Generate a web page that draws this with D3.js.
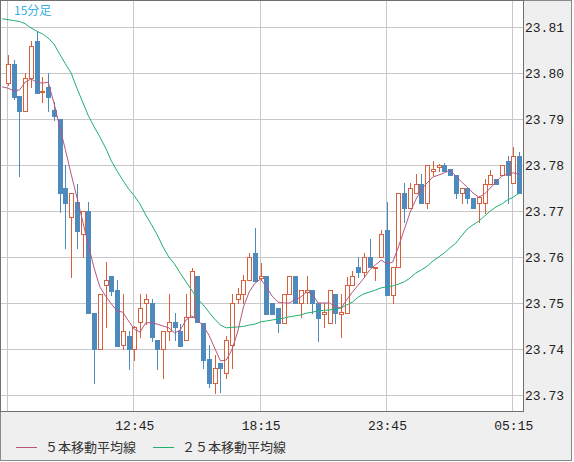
<!DOCTYPE html>
<html>
<head>
<meta charset="utf-8">
<script src="https://cdn.jsdelivr.net/npm/d3@7"></script>
<style>
body { margin: 0; background: #ffffff; }
svg { display: block; }
</style>
</head>
<body>
<div id="chart_div"></div>
<script>
var chart_width = 574;
var chart_height = 462;
var plot_right = 523;
var plot_bottom = 411;

var up_colour = "#d8603c";
var down_colour = "#4d8bbf";
var ma5_colour = "#b5577f";
var ma25_colour = "#1fb070";

// 15 minute bars, 07:15 .. 05:30
var candle_open = [
    23.7978, 23.8020, 23.7950, 23.7917, 23.7989, 23.8070, 23.7958, 23.7970, 23.7920, 23.7900,
    23.7750, 23.7687, 23.7720, 23.7650, 23.7700, 23.7478, 23.7400, 23.7539, 23.7559, 23.7528,
    23.7409, 23.7428, 23.7400, 23.7459, 23.7500, 23.7500, 23.7420, 23.7400, 23.7439, 23.7459,
    23.7439, 23.7420, 23.7470, 23.7559, 23.7457, 23.7378, 23.7326, 23.7370, 23.7348, 23.7409,
    23.7509, 23.7520, 23.7550, 23.7609, 23.7554, 23.7559, 23.7500, 23.7489, 23.7457, 23.7520,
    23.7559, 23.7500, 23.7524, 23.7528, 23.7500, 23.7476, 23.7457, 23.7520, 23.7476, 23.7478,
    23.7539, 23.7578, 23.7567, 23.7600, 23.7576, 23.7600, 23.7659, 23.7517, 23.7578, 23.7739,
    23.7707, 23.7739, 23.7759, 23.7717, 23.7787, 23.7796, 23.7800, 23.7791, 23.7778, 23.7739,
    23.7750, 23.7728, 23.7717, 23.7717, 23.7759, 23.7770, 23.7778, 23.7809, 23.7761, 23.7820
];
var candle_high = [
    23.8039, 23.8028, 23.7950, 23.8000, 23.8070, 23.8089, 23.7991, 23.8000, 23.7937, 23.7900,
    23.7800, 23.7739, 23.7759, 23.7700, 23.7720, 23.7478, 23.7520, 23.7589, 23.7559, 23.7550,
    23.7520, 23.7439, 23.7450, 23.7520, 23.7520, 23.7509, 23.7420, 23.7439, 23.7520, 23.7478,
    23.7454, 23.7520, 23.7576, 23.7559, 23.7457, 23.7409, 23.7387, 23.7370, 23.7428, 23.7520,
    23.7533, 23.7561, 23.7609, 23.7663, 23.7587, 23.7559, 23.7500, 23.7489, 23.7520, 23.7559,
    23.7559, 23.7528, 23.7559, 23.7528, 23.7500, 23.7500, 23.7528, 23.7520, 23.7520, 23.7557,
    23.7570, 23.7600, 23.7609, 23.7639, 23.7578, 23.7659, 23.7720, 23.7578, 23.7739, 23.7761,
    23.7761, 23.7780, 23.7780, 23.7800, 23.7809, 23.7802, 23.7804, 23.7791, 23.7778, 23.7750,
    23.7750, 23.7728, 23.7733, 23.7770, 23.7789, 23.7770, 23.7800, 23.7820, 23.7839, 23.7828
];
var candle_low = [
    23.7974, 23.7943, 23.7776, 23.7917, 23.7970, 23.7957, 23.7937, 23.7917, 23.7898, 23.7698,
    23.7620, 23.7557, 23.7620, 23.7600, 23.7478, 23.7326, 23.7400, 23.7448, 23.7517, 23.7407,
    23.7400, 23.7357, 23.7376, 23.7426, 23.7454, 23.7417, 23.7357, 23.7337, 23.7420, 23.7420,
    23.7407, 23.7420, 23.7470, 23.7459, 23.7359, 23.7317, 23.7304, 23.7307, 23.7337, 23.7359,
    23.7500, 23.7500, 23.7550, 23.7548, 23.7550, 23.7476, 23.7476, 23.7437, 23.7457, 23.7520,
    23.7500, 23.7470, 23.7500, 23.7478, 23.7417, 23.7448, 23.7457, 23.7457, 23.7426, 23.7478,
    23.7539, 23.7557, 23.7557, 23.7578, 23.7550, 23.7600, 23.7517, 23.7500, 23.7578, 23.7676,
    23.7707, 23.7739, 23.7717, 23.7707, 23.7778, 23.7787, 23.7787, 23.7778, 23.7728, 23.7717,
    23.7717, 23.7707, 23.7676, 23.7696, 23.7759, 23.7759, 23.7778, 23.7717, 23.7761, 23.7739
];
var candle_close = [
    23.8020, 23.7948, 23.7917, 23.7989, 23.8059, 23.7957, 23.7960, 23.7948, 23.7907, 23.7739,
    23.7717, 23.7739, 23.7657, 23.7700, 23.7478, 23.7400, 23.7520, 23.7550, 23.7526, 23.7407,
    23.7439, 23.7400, 23.7448, 23.7489, 23.7509, 23.7426, 23.7400, 23.7439, 23.7459, 23.7448,
    23.7407, 23.7470, 23.7570, 23.7459, 23.7376, 23.7326, 23.7359, 23.7359, 23.7420, 23.7500,
    23.7520, 23.7550, 23.7600, 23.7548, 23.7559, 23.7476, 23.7476, 23.7457, 23.7520, 23.7559,
    23.7500, 23.7528, 23.7528, 23.7500, 23.7467, 23.7480, 23.7528, 23.7478, 23.7480, 23.7539,
    23.7559, 23.7567, 23.7600, 23.7578, 23.7578, 23.7650, 23.7517, 23.7578, 23.7739, 23.7707,
    23.7750, 23.7759, 23.7717, 23.7800, 23.7791, 23.7800, 23.7787, 23.7778, 23.7739, 23.7750,
    23.7728, 23.7707, 23.7730, 23.7759, 23.7778, 23.7759, 23.7800, 23.7778, 23.7820, 23.7739
];

// moving averages start one bar before the first visible candle
var ma5_values = [
    23.7970, 23.7967, 23.7961, 23.7963, 23.7980, 23.7987, 23.7980, 23.7978, 23.7980, 23.7935, 23.7883,
    23.7833, 23.7780, 23.7730, 23.7678, 23.7626, 23.7576, 23.7535, 23.7515, 23.7498, 23.7483,
    23.7480, 23.7461, 23.7443, 23.7437, 23.7457, 23.7457, 23.7454, 23.7450, 23.7446, 23.7435,
    23.7441, 23.7463, 23.7472, 23.7463, 23.7450, 23.7430, 23.7402, 23.7374, 23.7376, 23.7398,
    23.7437, 23.7491, 23.7524, 23.7543, 23.7552, 23.7535, 23.7515, 23.7502, 23.7500, 23.7500,
    23.7507, 23.7513, 23.7524, 23.7520, 23.7500, 23.7500, 23.7500, 23.7493, 23.7489, 23.7507,
    23.7524, 23.7539, 23.7554, 23.7572, 23.7583, 23.7593, 23.7585, 23.7589, 23.7622, 23.7659,
    23.7696, 23.7724, 23.7748, 23.7761, 23.7774, 23.7778, 23.7783, 23.7789, 23.7776, 23.7763,
    23.7752, 23.7739, 23.7730, 23.7737, 23.7750, 23.7763, 23.7776, 23.7780, 23.7783, 23.7780
];
var ma25_values = [
    23.8118, 23.8116, 23.8114, 23.8112, 23.8107, 23.8098, 23.8091, 23.8085, 23.8076, 23.8063, 23.8041,
    23.8020, 23.8000, 23.7967, 23.7937, 23.7907, 23.7883, 23.7861, 23.7837, 23.7809, 23.7787,
    23.7767, 23.7748, 23.7733, 23.7715, 23.7691, 23.7670, 23.7648, 23.7622, 23.7600, 23.7585,
    23.7565, 23.7546, 23.7528, 23.7509, 23.7496, 23.7480, 23.7465, 23.7452, 23.7446, 23.7447,
    23.7448, 23.7449, 23.7452, 23.7454, 23.7459, 23.7461, 23.7463, 23.7465, 23.7467, 23.7470,
    23.7472, 23.7474, 23.7478, 23.7480, 23.7483, 23.7484, 23.7485, 23.7487, 23.7489, 23.7496,
    23.7502, 23.7513, 23.7520, 23.7524, 23.7528, 23.7533, 23.7535, 23.7537, 23.7541, 23.7546,
    23.7554, 23.7565, 23.7572, 23.7580, 23.7591, 23.7600, 23.7609, 23.7620, 23.7630, 23.7646,
    23.7661, 23.7670, 23.7678, 23.7689, 23.7700, 23.7709, 23.7715, 23.7724, 23.7730, 23.7739
];

var time_tick_index = [0, 22, 44, 66, 88];
var time_tick_labels = ["", "12:45", "18:15", "23:45", "05:15"];
var price_ticks = [23.73, 23.74, 23.75, 23.76, 23.77, 23.78, 23.79, 23.80, 23.81];

var legend_labels = ["５本移動平均線", "２５本移動平均線"];
var period_label = "15分足";


function draw_chart() {
    var n_bars = candle_open.length;
    var x = d3.scaleLinear().domain([0, n_bars - 1]).range([8, 519]);
    var y = d3.scaleLinear().domain([23.73, 23.81]).range([395, 27]);

    var svg = d3.select("#chart_div")
        .append("svg")
        .attr("width", chart_width)
        .attr("height", chart_height);

    svg.append("rect")
        .attr("x", 0.5).attr("y", 0.5)
        .attr("width", chart_width - 3).attr("height", chart_height - 2)
        .attr("fill", "#efefef")
        .attr("stroke", "#8a8a8a");

    svg.append("rect")
        .attr("x", 0.5).attr("y", 0.5)
        .attr("width", plot_right).attr("height", plot_bottom)
        .attr("fill", "#ffffff");

    svg.append("clipPath")
        .attr("id", "plot_clip")
        .append("rect")
        .attr("x", 1).attr("y", 1)
        .attr("width", plot_right - 1).attr("height", plot_bottom - 1);

    var grid = svg.append("g")
        .attr("stroke", "#c8c8c8")
        .attr("shape-rendering", "crispEdges");
    grid.selectAll(".hgrid")
        .data(price_ticks)
        .enter()
        .append("line")
        .attr("x1", 1).attr("x2", plot_right)
        .attr("y1", function(d) { return Math.round(y(d)) + 0.5; })
        .attr("y2", function(d) { return Math.round(y(d)) + 0.5; });
    grid.selectAll(".vgrid")
        .data(time_tick_index)
        .enter()
        .append("line")
        .attr("y1", 1).attr("y2", plot_bottom)
        .attr("x1", function(d) { return Math.round(x(d)) - 0.5; })
        .attr("x2", function(d) { return Math.round(x(d)) - 0.5; });

    var plot = svg.append("g").attr("clip-path", "url(#plot_clip)");

    var bars = d3.range(n_bars).map(function(i) {
        return {
            i: i,
            open: candle_open[i],
            high: candle_high[i],
            low: candle_low[i],
            close: candle_close[i],
            up: candle_close[i] >= candle_open[i]
        };
    });

    var candle = plot.selectAll(".candle")
        .data(bars)
        .enter()
        .append("g")
        .attr("shape-rendering", "crispEdges");

    candle.append("line")
        .attr("x1", function(d) { return Math.round(x(d.i)) + 0.5; })
        .attr("x2", function(d) { return Math.round(x(d.i)) + 0.5; })
        .attr("y1", function(d) { return Math.round(y(d.high)); })
        .attr("y2", function(d) { return Math.round(y(d.low)) + 1; })
        .attr("stroke", function(d) { return d.up ? up_colour : down_colour; });

    candle.filter(function(d) { return !d.up; })
        .append("rect")
        .attr("x", function(d) { return Math.round(x(d.i)) - 2; })
        .attr("y", function(d) { return Math.round(y(d.open)); })
        .attr("width", 5)
        .attr("height", function(d) {
            return Math.max(1, Math.round(y(d.close)) - Math.round(y(d.open)) + 1);
        })
        .attr("fill", down_colour);

    candle.filter(function(d) { return d.up; })
        .append("path")
        .attr("d", function(d) {
            var cx = Math.round(x(d.i));
            var top = Math.round(y(d.close)) + 0.5;
            var bottom = Math.round(y(d.open)) + 0.5;
            return "M" + (cx - 1.5) + "," + top + "H" + (cx + 2.5) + "V" + bottom +
                "H" + (cx - 1.5) + "Z";
        })
        .attr("fill", "#ffffff")
        .attr("stroke", up_colour);

    var ma_line = d3.line()
        .x(function(d, i) { return x(i - 1); })
        .y(function(d) { return y(d); });

    plot.append("path")
        .attr("d", ma_line(ma25_values))
        .attr("fill", "none")
        .attr("stroke", ma25_colour)
        .attr("stroke-width", 1);

    plot.append("path")
        .attr("d", ma_line(ma5_values))
        .attr("fill", "none")
        .attr("stroke", ma5_colour)
        .attr("stroke-width", 1);

    // frame round the plot
    svg.append("rect")
        .attr("x", 0.5).attr("y", 0.5)
        .attr("width", plot_right).attr("height", plot_bottom)
        .attr("fill", "none")
        .attr("stroke", "#707070");

    var y_axis = d3.axisRight(y)
        .tickValues(price_ticks)
        .tickSize(0)
        .tickPadding(2)
        .tickFormat(d3.format(".2f"));
    var y_g = svg.append("g")
        .attr("transform", "translate(" + plot_right + ",0)")
        .call(y_axis);

    var x_axis = d3.axisBottom(x)
        .tickValues(time_tick_index)
        .tickSize(0)
        .tickPadding(10)
        .tickFormat(function(d, i) { return time_tick_labels[i]; });
    var x_g = svg.append("g")
        .attr("transform", "translate(0," + plot_bottom + ")")
        .call(x_axis);

    [y_g, x_g].forEach(function(g) {
        g.select(".domain").remove();
        g.selectAll("text")
            .attr("fill", "#222222")
            .style("font-family", "'Liberation Mono', monospace")
            .style("font-size", "13px");
    });

    svg.append("text")
        .attr("x", 14).attr("y", 15)
        .attr("fill", "#3ab0e6")
        .style("font-family", "'Noto Sans CJK JP', sans-serif")
        .style("font-size", "12px")
        .text(period_label);

    var legend_x = [16, 153];
    var legend_colours = [ma5_colour, ma25_colour];
    var legend = svg.selectAll(".legend")
        .data(legend_labels)
        .enter()
        .append("g")
        .attr("transform", function(d, i) { return "translate(" + legend_x[i] + ",0)"; });
    legend.append("line")
        .attr("x1", 0).attr("x2", 21)
        .attr("y1", 447.5).attr("y2", 447.5)
        .attr("stroke", function(d, i) { return legend_colours[i]; });
    legend.append("text")
        .attr("x", 29).attr("y", 452)
        .attr("fill", "#333333")
        .style("font-family", "'Noto Sans CJK JP', sans-serif")
        .style("font-size", "13px")
        .text(function(d) { return d; });
}

draw_chart();
</script>
</body>
</html>
